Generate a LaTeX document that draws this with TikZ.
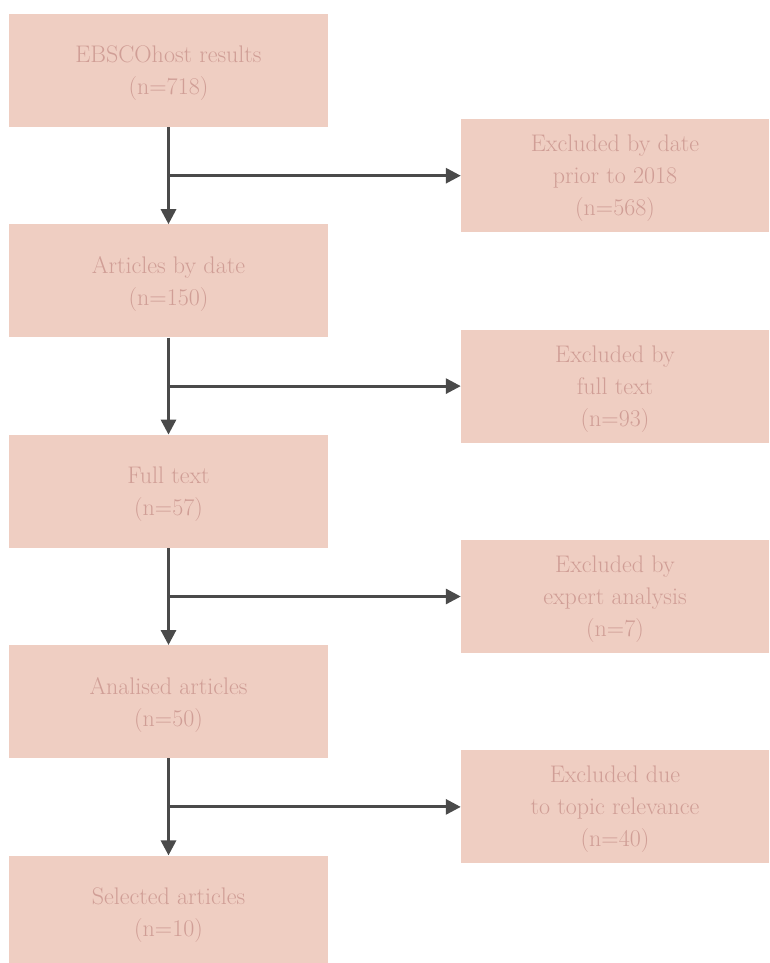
\documentclass[tikz,border=0pt]{standalone}
\usepackage{fontspec}
\usetikzlibrary{positioning,arrows.meta}

\definecolor{boxfill}{HTML}{EFCEC2}
\definecolor{boxtext}{HTML}{D09E96}
\definecolor{arrowgray}{HTML}{4A4A4A}

\tikzstyle{block} = [rectangle, fill=boxfill, text=boxtext, minimum width=319pt, minimum height=113pt, inner sep=0pt, align=center, font=\fontsize{24}{32}\selectfont, text depth=-2pt]
\tikzstyle{line} = [draw=arrowgray, line width=3pt, -{Triangle[length=15pt,width=15pt]}]

\begin{document}
\begin{tikzpicture}[x=1pt, y=-1pt, node distance = 97pt]
    \useasboundingbox (0,0) rectangle (770,963);

    % The main column
    % * search results
    % * filtered step by step
    \node [block] at (168.5,70.5)
        (ebsco) {EBSCOhost results\\(n=718)};
    \node [block, below=of ebsco]
        (bydate) {Articles by date\\(n=150)};
    \node [block, below=of bydate]
        (fulltext) {Full text\\(n=57)};
    \node [block, below=of fulltext]
        (analised) {Analised articles\\(n=50)};
    \node [block, below=of analised]
        (selected) {Selected articles\\(n=10)};

    % The excluded column
    \node [block, minimum width=308pt] at (615,175.5)
        (exdate) {Excluded by date\\prior to 2018\\(n=568)};
    \node [block, minimum width=308pt] at (615,386.5)
        (exfull) {Excluded by\\full text\\(n=93)};
    \node [block, minimum width=308pt] at (615,596.5)
        (exexpert) {Excluded by\\expert analysis\\(n=7)};
    \node [block, minimum width=308pt] at (615,806.5)
        (extopic) {Excluded due\\to topic relevance\\(n=40)};

    % LINES down the main column
    \path[line] (ebsco) -- coordinate (fork1) (bydate);
    \path[line] (bydate) -- coordinate (fork2) (fulltext);
    \path[line] (fulltext) -- coordinate (fork3) (analised);
    \path[line] (analised) -- coordinate (fork4) (selected);

    % LINES fork -> excluded
    \path[line] (fork1) -- (fork1 -| exdate.west);
    \path[line] (fork2) -- (fork2 -| exfull.west);
    \path[line] (fork3) -- (fork3 -| exexpert.west);
    \path[line] (fork4) -- (fork4 -| extopic.west);
\end{tikzpicture}
\end{document}
